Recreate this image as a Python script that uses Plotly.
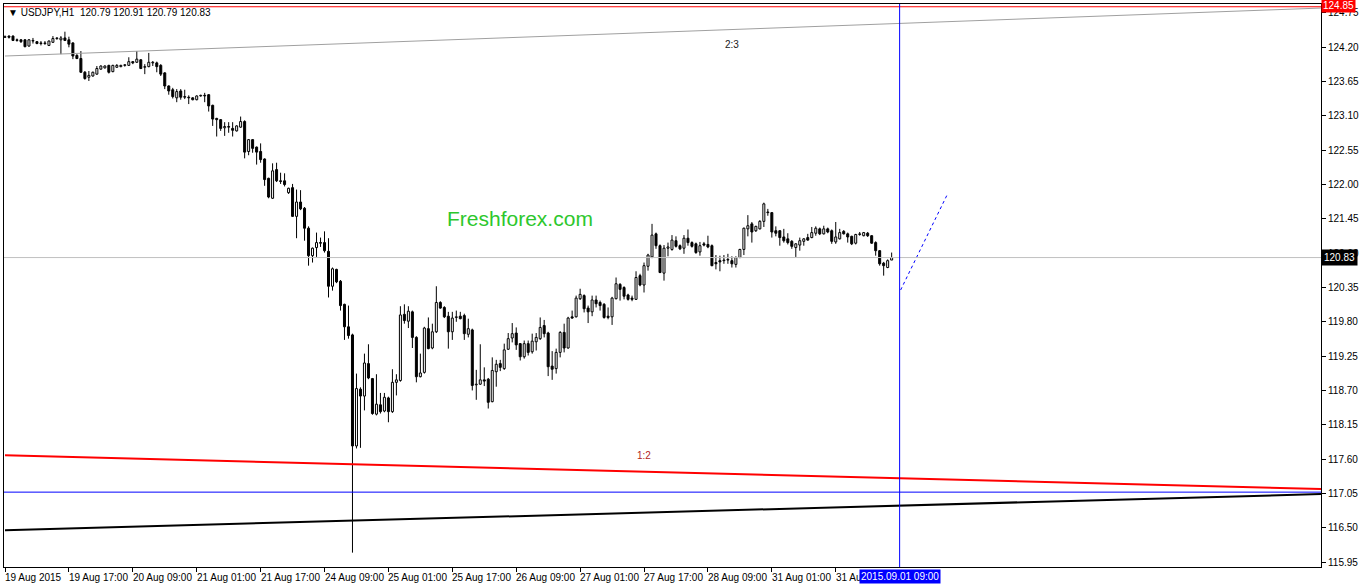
import plotly.graph_objects as go

# ---------------- data (USDJPY H1) ----------------
opens = [124.36,124.38,124.38,124.32,124.32,124.32,124.22,124.30,124.29,124.27,
         124.26,124.23,124.28,124.34,124.32,124.35,124.32,124.27,124.07,124.02,
         123.80,123.72,123.74,123.77,123.85,123.87,123.91,123.81,123.88,123.89,
         123.91,123.91,123.97,123.96,124.00,123.88,123.89,123.95,123.95,123.91,
         123.79,123.58,123.52,123.39,123.50,123.41,123.40,123.39,123.36,123.42,
         123.43,123.44,123.27,123.06,123.04,122.91,122.93,122.90,122.86,122.92,
         123.01,122.53,122.72,122.60,122.53,122.41,122.10,121.78,122.24,122.06,
         122.06,121.87,121.95,121.49,121.72,121.62,121.30,120.86,120.99,121.07,
         121.07,120.93,120.37,120.64,120.45,120.08,119.72,119.59,117.81,118.72,
         118.61,119.13,118.89,118.32,118.47,118.37,118.58,118.36,118.83,118.86,
         119.92,119.81,119.96,119.55,118.92,118.99,119.69,119.38,119.64,120.11,
         120.03,119.89,119.64,119.87,119.89,119.90,119.60,119.67,118.79,118.80,
         118.87,118.88,118.52,119.00,119.13,119.05,119.36,119.54,119.62,119.45,
         119.24,119.45,119.32,119.48,119.53,119.74,119.62,119.09,119.05,119.31,
         119.63,119.38,119.88,119.88,120.17,120.22,120.02,119.96,120.15,120.11,
         120.08,119.89,119.88,120.17,120.40,120.35,120.23,120.18,120.16,120.54,
         120.39,120.69,120.84,121.21,121.02,120.58,120.98,120.96,121.10,121.02,
         120.98,121.14,121.07,121.05,120.92,121.05,121.04,121.02,120.75,120.78,
         120.78,120.79,120.78,120.72,120.83,120.96,121.29,121.37,121.26,121.29,
         121.41,121.56,121.55,121.26,121.26,121.16,121.13,121.09,120.99,121.03,
         121.09,121.15,121.15,121.22,121.29,121.21,121.29,121.26,121.08,121.13,
         121.25,121.21,121.17,121.06,121.20,121.18,121.22,121.18,121.07,120.94,
         120.74,120.67,120.79]
highs = [124.39,124.39,124.39,124.34,124.33,124.33,124.33,124.35,124.30,124.30,
         124.30,124.31,124.38,124.36,124.38,124.45,124.37,124.28,124.09,124.14,
         123.82,123.82,123.81,123.90,123.91,123.91,123.92,123.92,123.93,123.92,
         123.93,124.04,123.98,124.14,124.01,123.93,124.11,123.98,123.97,123.93,
         123.80,123.59,123.55,123.53,123.53,123.52,123.43,123.40,123.43,123.44,
         123.47,123.45,123.28,123.07,123.05,123.00,123.00,123.00,122.95,123.09,
         123.03,122.73,122.73,122.61,122.66,122.42,122.11,122.34,122.35,122.19,
         122.18,121.95,122.01,121.92,121.91,121.64,121.33,120.99,121.23,121.15,
         121.25,121.14,120.67,120.65,120.47,120.09,120.06,119.61,118.97,118.75,
         119.29,119.44,118.90,118.96,118.66,118.66,118.60,119.04,118.96,120.05,
         120.08,120.05,119.98,119.57,119.29,119.72,119.87,119.77,120.37,120.13,
         120.05,119.96,119.96,119.98,119.96,119.93,119.85,119.69,119.03,119.44,
         119.07,118.90,119.23,119.19,119.19,119.45,119.62,119.78,119.71,119.46,
         119.50,119.50,119.61,119.62,119.87,119.83,119.64,119.33,119.37,119.65,
         119.77,119.88,119.98,120.22,120.33,120.24,120.06,120.22,120.22,120.14,
         120.10,120.03,120.20,120.51,120.42,120.37,120.25,120.22,120.61,120.57,
         120.75,120.89,121.37,121.23,121.04,121.03,121.07,121.19,121.17,121.04,
         121.19,121.28,121.09,121.07,121.08,121.08,121.18,121.04,120.87,120.86,
         120.87,120.89,120.85,120.85,120.97,121.31,121.51,121.40,121.34,121.43,
         121.71,121.61,121.56,121.33,121.27,121.29,121.22,121.11,121.06,121.15,
         121.14,121.21,121.32,121.33,121.31,121.34,121.31,121.28,121.40,121.29,
         121.27,121.23,121.18,121.21,121.24,121.24,121.24,121.19,121.09,120.95,
         120.76,120.80,120.91]
lows = [124.35,124.34,124.30,124.29,124.27,124.20,124.21,124.26,124.25,124.23,
        124.24,124.22,124.27,124.32,124.09,124.30,124.20,124.01,124.01,123.79,
        123.68,123.66,123.73,123.76,123.84,123.86,123.78,123.80,123.87,123.88,
        123.89,123.90,123.93,123.95,123.85,123.77,123.88,123.90,123.80,123.74,
        123.53,123.44,123.38,123.32,123.36,123.37,123.29,123.35,123.35,123.41,
        123.32,123.17,122.94,122.77,122.86,122.78,122.83,122.77,122.85,122.91,
        122.42,122.47,122.51,122.32,122.35,121.98,121.78,121.77,122.04,122.01,
        121.97,121.85,121.48,121.14,121.59,121.10,120.70,120.75,120.84,121.00,
        120.91,120.19,120.30,120.42,119.98,119.51,119.53,116.10,117.77,117.78,
        118.38,118.88,118.31,118.30,118.33,118.35,118.19,118.34,118.62,118.84,
        119.77,119.70,119.38,118.83,118.91,118.97,119.36,119.36,119.62,120.01,
        119.86,119.37,119.51,119.80,119.84,119.51,119.55,118.70,118.55,118.79,
        118.77,118.41,118.51,118.76,119.01,119.03,119.35,119.47,119.35,119.18,
        119.21,119.26,119.29,119.34,119.51,119.55,118.93,118.87,118.97,119.23,
        119.31,119.37,119.85,119.87,120.15,119.95,119.78,119.89,120.03,119.98,
        119.85,119.84,119.75,120.16,120.14,120.16,120.14,120.13,120.15,120.37,
        120.27,120.62,120.82,120.97,120.58,120.46,120.85,120.94,120.99,120.95,
        120.89,121.02,120.99,120.89,120.86,121.01,120.98,120.69,120.64,120.61,
        120.73,120.73,120.67,120.67,120.82,120.87,121.17,121.07,121.24,121.28,
        121.32,121.50,121.15,121.17,121.02,121.07,121.04,120.97,120.84,120.94,
        121.02,121.10,121.14,121.18,121.19,121.20,121.22,121.05,121.05,121.12,
        121.20,121.07,121.03,121.04,121.18,121.17,121.16,121.05,120.86,120.70,
        120.54,120.66,120.79]
closes = [124.37,124.36,124.31,124.31,124.29,124.21,124.32,124.31,124.26,124.26,
          124.27,124.30,124.34,124.35,124.35,124.31,124.25,124.06,124.02,123.80,
          123.70,123.75,123.80,123.86,123.90,123.90,123.80,123.91,123.91,123.91,
          123.92,123.97,123.95,124.01,123.86,123.89,123.96,123.96,123.89,123.77,
          123.58,123.50,123.41,123.49,123.40,123.40,123.39,123.36,123.42,123.43,
          123.42,123.26,123.05,123.04,122.90,122.93,122.92,122.87,122.94,123.01,
          122.52,122.72,122.58,122.52,122.40,122.08,121.80,122.22,122.06,122.05,
          122.00,121.94,121.49,121.72,121.61,121.30,120.86,120.98,121.07,121.06,
          120.94,120.37,120.65,120.44,120.06,119.72,119.58,117.81,118.73,118.61,
          119.14,118.90,118.33,118.48,118.36,118.59,118.36,118.83,118.87,119.91,
          119.82,119.97,119.55,118.92,118.98,119.70,119.37,119.64,120.11,120.02,
          119.88,119.64,119.86,119.88,119.85,119.61,119.69,118.78,118.80,118.87,
          118.85,118.51,119.02,119.12,119.07,119.35,119.53,119.61,119.43,119.24,
          119.45,119.31,119.49,119.55,119.71,119.61,119.08,119.04,119.31,119.63,
          119.38,119.86,119.86,120.18,120.24,120.01,119.96,120.15,120.09,120.06,
          119.87,119.87,120.18,120.41,120.32,120.21,120.16,120.16,120.51,120.39,
          120.70,120.87,121.19,121.02,120.59,120.98,121.00,121.11,121.01,120.97,
          121.14,121.07,121.01,120.91,121.02,121.03,121.00,120.70,120.73,120.76,
          120.79,120.80,120.73,120.83,120.96,121.30,121.34,121.24,121.33,121.41,
          121.69,121.55,121.24,121.22,121.15,121.10,121.07,121.01,121.05,121.10,
          121.13,121.11,121.23,121.30,121.21,121.29,121.24,121.09,121.16,121.23,
          121.21,121.16,121.05,121.20,121.21,121.23,121.18,121.06,120.94,120.73,
          120.70,120.78,120.83]

# time-axis labels (every 16 hourly bars, bar index 0 = 19 Aug 2015 01:00)
tick_bars = [0, 16, 32, 48, 64, 80, 96, 112, 128, 144, 160, 176, 192, 208]
tick_labels = ["19 Aug 2015", "19 Aug 17:00", "20 Aug 09:00", "21 Aug 01:00",
               "21 Aug 17:00", "24 Aug 09:00", "25 Aug 01:00", "25 Aug 17:00",
               "26 Aug 09:00", "27 Aug 01:00", "27 Aug 17:00", "28 Aug 09:00",
               "31 Aug 01:00", "31 Aug 17:00"]
price_ticks = [115.95, 116.50, 117.05, 117.60, 118.15, 118.70, 119.25, 119.80,
               120.35, 120.90, 121.45, 122.00, 122.55, 123.10, 123.65, 124.20, 124.75]

# drawn objects (anchor points: bar index, price)
gray_trend_x, gray_trend_y = [0, 330], [124.06, 124.83]
red_trend_x, red_trend_y = [0, 330], [117.66, 117.12]
black_trend_x, black_trend_y = [0, 330], [116.46, 117.04]
blue_level = 117.07
red_level = 124.85
bid_price = 120.83
vline_bar = 224
vline_label = "2015.09.01 09:00"
proj_x, proj_y = [224.25, 236.0], [120.31, 121.85]
symbol_title = "USDJPY,H1  120.79 120.91 120.79 120.83"

# ---------------- figure ----------------
FONT = "Liberation Sans, Arial, sans-serif"
n = len(opens)
idx = list(range(n))

wx, wy = [], []
for i in idx:
    o, h, l, c = opens[i], highs[i], lows[i], closes[i]
    top, bot = max(o, c), min(o, c)
    h, l = max(h, top), min(l, bot)
    if h > top:
        wx += [i, i, None]; wy += [top, h, None]
    if l < bot:
        wx += [i, i, None]; wy += [bot, l, None]

bull = [i for i in idx if closes[i] >= opens[i]]
bear = [i for i in idx if closes[i] < opens[i]]

fig = go.Figure()
fig.add_trace(go.Bar(x=bull, base=[opens[i] for i in bull],
                     y=[closes[i] - opens[i] for i in bull], width=0.5,
                     marker=dict(color="white", line=dict(color="black", width=1))))
fig.add_trace(go.Bar(x=bear, base=[closes[i] for i in bear],
                     y=[opens[i] - closes[i] for i in bear], width=0.5,
                     marker=dict(color="black", line=dict(color="black", width=1))))
fig.add_trace(go.Scatter(x=wx, y=wy, mode="lines",
                         line=dict(color="black", width=1)))

fig.add_trace(go.Scatter(x=gray_trend_x, y=gray_trend_y, mode="lines",
                         line=dict(color="#A0A0A0", width=1)))
fig.add_trace(go.Scatter(x=red_trend_x, y=red_trend_y, mode="lines",
                         line=dict(color="#FF0000", width=2)))
fig.add_trace(go.Scatter(x=black_trend_x, y=black_trend_y, mode="lines",
                         line=dict(color="#000000", width=2)))
fig.add_trace(go.Scatter(x=proj_x, y=proj_y, mode="lines",
                         line=dict(color="#0000FF", width=1, dash="dot")))

shapes = [
    dict(type="line", xref="paper", x0=0, x1=1, yref="y", y0=blue_level, y1=blue_level,
         line=dict(color="#0000FF", width=1)),
    dict(type="line", xref="paper", x0=0, x1=1, yref="y", y0=red_level, y1=red_level,
         line=dict(color="#FF0000", width=1)),
    dict(type="line", xref="paper", x0=0, x1=1, yref="y", y0=bid_price, y1=bid_price,
         line=dict(color="#C0C0C0", width=1)),
    dict(type="line", xref="x", x0=vline_bar, x1=vline_bar, yref="paper", y0=0, y1=1,
         line=dict(color="#0000FF", width=1)),
]

ann = []
for b, t in zip(tick_bars, tick_labels):
    ann.append(dict(x=b, y=0, xref="x", yref="paper", text=t, showarrow=False,
                    xanchor="left", yanchor="top", xshift=-2, yshift=-3,
                    font=dict(family=FONT, size=10, color="black")))
ann.append(dict(x=vline_bar, y=0, xref="x", yref="paper", text=vline_label, showarrow=False,
                xanchor="center", yanchor="top", yshift=-2, bgcolor="#0000FF", borderpad=1,
                font=dict(family=FONT, size=10, color="white")))
ann.append(dict(x=1, y=bid_price, xref="paper", yref="y", text=f"{bid_price:.2f}",
                showarrow=False, xanchor="left", yanchor="middle", xshift=0,
                bgcolor="black", borderpad=2, font=dict(family=FONT, size=10, color="white")))
ann.append(dict(x=1, y=red_level, xref="paper", yref="y", text=f"{red_level:.2f}",
                showarrow=False, xanchor="left", yanchor="middle", xshift=0, yshift=1,
                bgcolor="#FF0000", borderpad=1, font=dict(family=FONT, size=10, color="white")))
ann.append(dict(x=0, y=1, xref="paper", yref="paper", text="\u25BC " + symbol_title,
                showarrow=False, xanchor="left", yanchor="top", xshift=2, yshift=-1,
                font=dict(family=FONT, size=10, color="black")))
ann.append(dict(x=182, y=124.25, xref="x", yref="y", text="2:3", showarrow=False,
                font=dict(family=FONT, size=10, color="#202020")))
ann.append(dict(x=160, y=117.66, xref="x", yref="y", text="1:2", showarrow=False,
                font=dict(family=FONT, size=10, color="#B22222")))
ann.append(dict(x=129, y=121.45, xref="x", yref="y", text="Freshforex.com", showarrow=False,
                font=dict(family=FONT, size=21, color="#2DC72D")))

fig.update_layout(
    width=1362, height=586,
    margin=dict(l=3, r=40, t=3, b=19, pad=0),
    paper_bgcolor="white", plot_bgcolor="white",
    showlegend=False, barmode="overlay", hovermode=False,
    shapes=shapes, annotations=ann,
    xaxis=dict(range=[-0.25, 329.5], showgrid=False, zeroline=False,
               showline=True, mirror=True, linecolor="black", linewidth=1,
               ticks="outside", tickvals=tick_bars, ticklen=4, tickcolor="black",
               showticklabels=False, fixedrange=True),
    yaxis=dict(range=[115.87, 124.894], side="right", showgrid=False, zeroline=False,
               showline=True, mirror=True, linecolor="black", linewidth=1,
               ticks="outside", tickvals=price_ticks,
               ticktext=[f"{p:.2f}" for p in price_ticks], ticklen=4, tickcolor="black",
               tickfont=dict(family=FONT, size=10, color="black"), fixedrange=True),
)

fig.write_html("out.html", config={"displayModeBar": False},
               post_script="document.body.style.margin='0';document.body.style.overflow='hidden';")
